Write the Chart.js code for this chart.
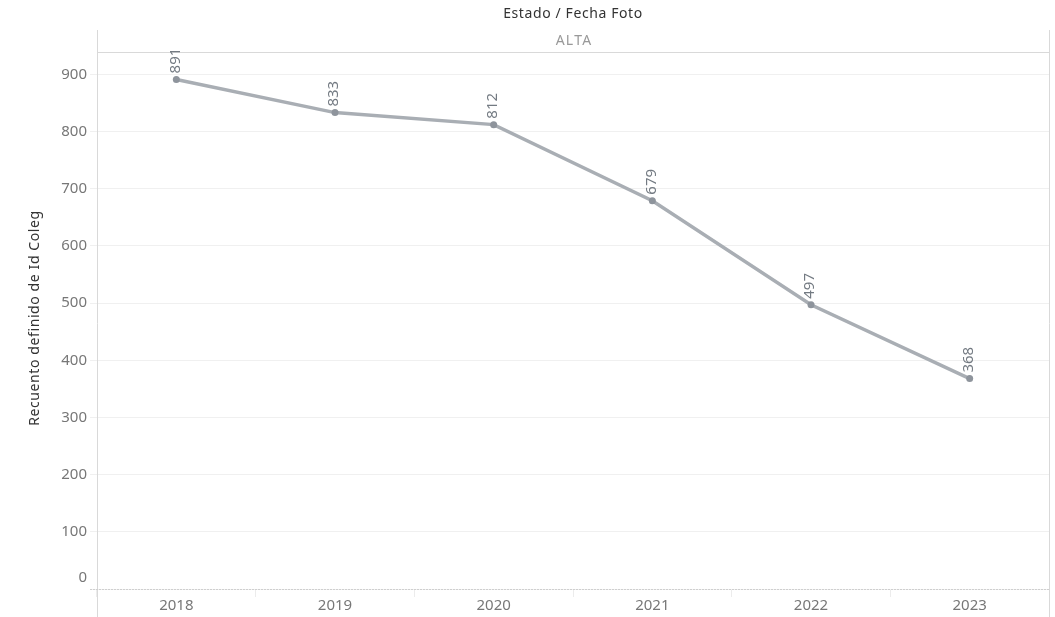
<!DOCTYPE html>
<html><head><meta charset="utf-8">
<script src="https://cdn.jsdelivr.net/npm/chart.js@4/dist/chart.umd.min.js"></script>
<style>html,body{margin:0;padding:0;background:#fff;}#wrap{width:1055px;height:617px;position:relative;}</style>
</head><body><div id="wrap"><canvas id="c" width="1055" height="617"></canvas></div>
<script>
const categories = ['2018','2019','2020','2021','2022','2023'];
const values = [891, 833, 812, 679, 497, 368];
const yTicks = [0,100,200,300,400,500,600,700,800,900];
const headerTitle = 'Estado / Fecha Foto';
const panelTitle = 'ALTA';
const yTitle = 'Recuento definido de Id Coleg';
const FONT = "'Noto Sans', 'DejaVu Sans', sans-serif";

const decor = {
  id: 'decor',
  afterDraw(chart) {
    const ctx = chart.ctx, a = chart.chartArea;
    ctx.save();
    ctx.strokeStyle = '#d9d9d9'; ctx.lineWidth = 1;
    ctx.beginPath();
    ctx.moveTo(a.left + 0.5, 30); ctx.lineTo(a.left + 0.5, 617);
    ctx.moveTo(a.right + 0.5, 30); ctx.lineTo(a.right + 0.5, 617);
    ctx.moveTo(a.left, 52.5); ctx.lineTo(a.right, 52.5);
    ctx.stroke();
    ctx.strokeStyle = '#cfcfcf';
    ctx.setLineDash([2,1]);
    ctx.beginPath(); ctx.moveTo(90, a.bottom + 0.5); ctx.lineTo(a.right, a.bottom + 0.5); ctx.stroke();
    ctx.setLineDash([]);
    const cx = (a.left + a.right) / 2;
    ctx.textAlign = 'center'; ctx.textBaseline = 'middle';
    ctx.fillStyle = '#333'; ctx.font = '14px ' + FONT;
    ctx.letterSpacing = '0.6px';
    ctx.fillText(headerTitle, cx, 14);
    ctx.letterSpacing = '1.2px';
    ctx.fillStyle = '#999'; ctx.font = '14px ' + FONT;
    ctx.fillText(panelTitle, cx + 1, 41);
    // y title
    ctx.save();
    ctx.translate(35, 318); ctx.rotate(-Math.PI/2);
    ctx.letterSpacing = '0.6px';
    ctx.fillStyle = '#333'; ctx.font = '14px ' + FONT;
    ctx.fillText(yTitle, 0, 0);
    ctx.restore();
    ctx.letterSpacing = '0px';
    // zero tick label (placed above the axis line as in the reference)
    const ys = chart.scales.y;
    ctx.textAlign = 'right'; ctx.fillStyle = '#777'; ctx.font = '15px ' + FONT;
    ctx.fillText('0', 87, ys.getPixelForValue(0) - 11);
    // data labels
    const meta = chart.getDatasetMeta(0);
    ctx.fillStyle = '#737a82'; ctx.font = '15px ' + FONT;
    meta.data.forEach((pt, i) => {
      ctx.save();
      ctx.translate(pt.x - 1, pt.y - 6);
      ctx.rotate(-Math.PI/2);
      ctx.textAlign = 'left'; ctx.textBaseline = 'middle';
      ctx.fillText(String(values[i]), 0, 0);
      ctx.restore();
    });
    ctx.restore();
  }
};

new Chart(document.getElementById('c'), {
  type: 'line',
  data: { labels: categories, datasets: [{
    data: values, borderColor: '#a9aeb4', borderWidth: 3.5,
    pointRadius: 3.5, pointBackgroundColor: '#8e949c', pointBorderWidth: 0,
    tension: 0
  }]},
  options: {
    responsive: false, animation: false,
    layout: { padding: { top: 52, right: 6, left: 0, bottom: 0 } },
    plugins: { legend: { display: false }, tooltip: { enabled: false } },
    scales: {
      x: {
        offset: true,
        grid: { offset: true, drawOnChartArea: false, color: '#ececec', tickLength: 8 },
        border: { display: false },
        ticks: { color: '#777', font: { family: FONT, size: 15 }, padding: 0 },
        afterFit(s) { s.height = 28; }
      },
      y: {
        min: 0, max: 939,
        afterBuildTicks(s) { s.ticks = yTicks.map(v => ({ value: v })); },
        grid: { color: '#f0f0f0', tickLength: 7 },
        border: { display: false },
        ticks: { color: '#777', font: { family: FONT, size: 15 }, padding: 3,
                 callback: v => v === 0 ? '' : String(v) },
        afterFit(s) { s.width = 97; }
      }
    }
  },
  plugins: [decor]
});
</script></body></html>
